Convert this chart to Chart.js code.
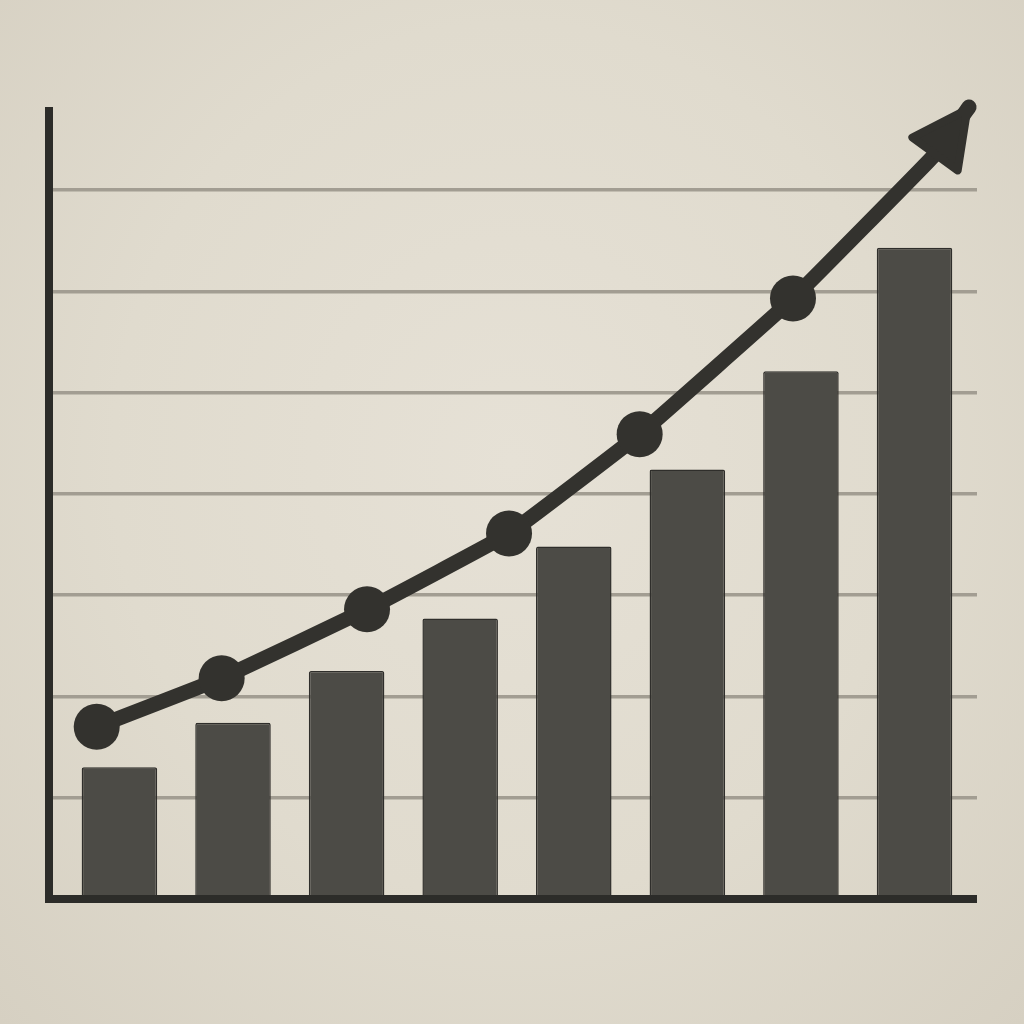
<!DOCTYPE html>
<html>
<head>
<meta charset="utf-8">
<script src="https://cdn.jsdelivr.net/npm/chart.js@4.4.0/dist/chart.umd.min.js"></script>
<style>
  html, body { margin: 0; padding: 0; }
  body {
    width: 1024px; height: 1024px; overflow: hidden;
    background: radial-gradient(ellipse at 50% 45%, #e6e1d6 0%, #e0dbce 55%, #d6d0c2 100%);
  }
  #chart { display: block; }
</style>
</head>
<body>
<canvas id="chart" width="1024" height="1024"></canvas>
<script>
// bar heights, one per column (grid step = 1)
const barX = [0, 1, 2, 3, 4, 5, 6, 7];
const barValues = [1.30, 1.74, 2.25, 2.77, 3.48, 4.24, 5.21, 6.43];

// trend line: six dots, then the arrow shaft end and the arrow tip
const lineX = [-0.20, 0.90, 2.18, 3.43, 4.58, 5.93, 7.17, 7.48];
const lineValues = [1.70, 2.18, 2.86, 3.61, 4.59, 5.93, 7.34, 7.82];
const dotRadius = [23, 23, 23, 23, 23, 23, 0, 0];

const ink = "#33322e";
const barInk = "#4c4b46";

// axis lines drawn from the chart area edges
const axesPlugin = {
  id: "axes",
  afterDatasetsDraw(chart) {
    const { ctx, chartArea } = chart;
    ctx.save();
    ctx.strokeStyle = "#2c2c29";
    ctx.lineWidth = 8;
    ctx.lineCap = "butt";
    ctx.beginPath();
    ctx.moveTo(chartArea.left, chartArea.top);
    ctx.lineTo(chartArea.left, chartArea.bottom);
    ctx.lineTo(chartArea.right, chartArea.bottom);
    ctx.stroke();
    ctx.restore();
  },
};

// arrow head on the last point of the line dataset
const arrowPlugin = {
  id: "arrow",
  afterDatasetsDraw(chart) {
    const meta = chart.getDatasetMeta(1);
    const pts = meta.data;
    const tip = pts[pts.length - 1];
    const prev = pts[pts.length - 2];
    const ang = Math.atan2(tip.y - prev.y, tip.x - prev.x);
    const len = 58, half = 28;
    const { ctx } = chart;
    ctx.save();
    ctx.translate(tip.x, tip.y);
    ctx.rotate(ang);
    ctx.fillStyle = ink;
    ctx.strokeStyle = ink;
    ctx.lineWidth = 8;
    ctx.lineJoin = "round";
    ctx.beginPath();
    ctx.moveTo(-3, 0);
    ctx.lineTo(-len, -half);
    ctx.lineTo(-len, half);
    ctx.closePath();
    ctx.fill();
    ctx.stroke();
    ctx.restore();
  },
};

new Chart(document.getElementById("chart"), {
  data: {
    datasets: [
      {
        type: "bar",
        data: barX.map((x, i) => ({ x: x, y: barValues[i] })),
        backgroundColor: barInk,
        borderColor: "#2f2e2b",
        borderWidth: 1.5,
        borderRadius: 2,
        borderSkipped: "bottom",
        barPercentage: 0.665,
        categoryPercentage: 1,
        order: 2,
      },
      {
        type: "line",
        data: lineX.map((x, i) => ({ x: x, y: lineValues[i] })),
        borderColor: ink,
        borderWidth: 15,
        borderCapStyle: "round",
        borderJoinStyle: "round",
        tension: 0.08,
        pointRadius: dotRadius,
        pointBackgroundColor: ink,
        pointBorderColor: ink,
        pointBorderWidth: 0,
        clip: false,
        order: 1,
      },
    ],
  },
  options: {
    responsive: false,
    animation: false,
    events: [],
    layout: { padding: { left: 49, right: 47, top: 107, bottom: 125 } },
    plugins: { legend: { display: false }, tooltip: { enabled: false } },
    scales: {
      x: {
        type: "linear",
        min: -0.62,
        max: 7.55,
        offset: false,
        display: false,
        ticks: { stepSize: 1, includeBounds: false },
      },
      y: {
        min: 0,
        max: 7.82,
        ticks: { display: false, stepSize: 1 },
        border: { display: false },
        grid: {
          drawTicks: false,
          lineWidth: 3.5,
          color: (c) =>
            c.tick && c.tick.value > 0 && Number.isInteger(c.tick.value)
              ? "#a29d92"
              : "rgba(0,0,0,0)",
        },
      },
    },
  },
  plugins: [axesPlugin, arrowPlugin],
});
</script>
</body>
</html>
